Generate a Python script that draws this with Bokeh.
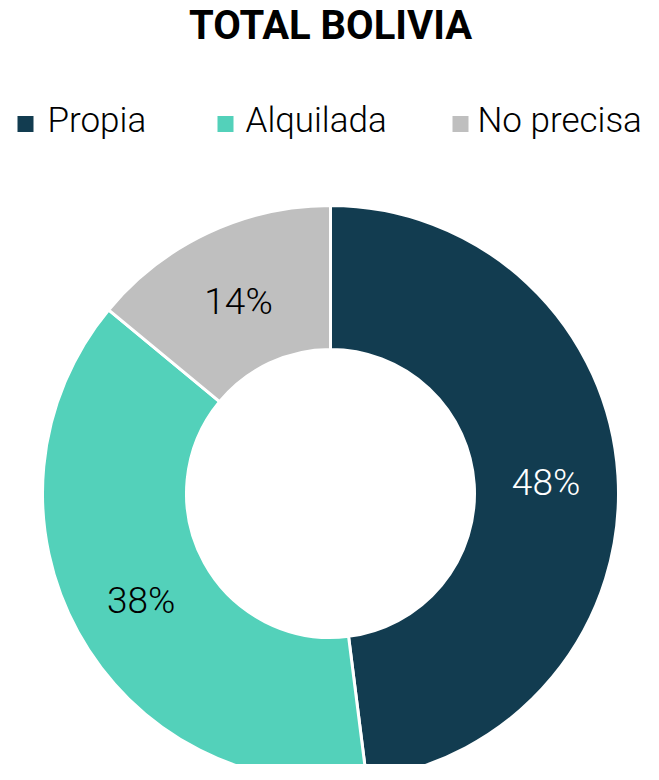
import math
from bokeh.plotting import figure
from bokeh.models import Range1d, ColumnDataSource
from bokeh.core.properties import value
from bokeh.embed import file_html
from bokeh.resources import INLINE

title = "TOTAL BOLIVIA"
categories = ["Propia", "Alquilada", "No precisa"]
shares = [48, 38, 14]
colors = ["#123c50", "#53d1ba", "#bfbfbf"]
label_colors = ["white", "black", "black"]

W, H = 643, 764

def py(y):
    # screen y (top-down) -> data y (bottom-up)
    return H - y

p = figure(width=W, height=H, output_backend="svg", toolbar_location=None,
           x_range=Range1d(0, W), y_range=Range1d(0, H),
           min_border=0)
p.axis.visible = False
p.grid.visible = False
p.outline_line_color = None
p.background_fill_color = "white"

cx, cy = 330, py(493)
r_out, r_in = 288, 144

total = sum(shares)
starts, ends, lx, ly, labels = [], [], [], [], []
cum = 0.0
for s in shares:
    a0 = math.pi / 2 - 2 * math.pi * cum / total
    cum += s
    a1 = math.pi / 2 - 2 * math.pi * cum / total
    starts.append(a0)
    ends.append(a1)
    mid = (a0 + a1) / 2
    rm = (r_in + r_out) / 2
    lx.append(cx + rm * math.cos(mid))
    ly.append(cy + rm * math.sin(mid) - 3)
    labels.append(f"{s}%")

src = ColumnDataSource(dict(start=starts, end=ends, color=colors,
                            lx=lx, ly=ly, label=labels, lc=label_colors))
p.annular_wedge(x=cx, y=cy, inner_radius=r_in, outer_radius=r_out,
                start_angle="start", end_angle="end", direction="clock",
                fill_color="color", line_color="white", line_width=3, source=src)

p.text(x="lx", y="ly", text="label", text_color="lc", source=src,
       text_font=value("Roboto Light"), text_font_size="37px",
       text_align="center", text_baseline="middle")

# Title
p.text(x=[330], y=[py(25)], text=[title], text_font=value("Roboto"),
       text_font_style="bold", text_font_size="40px", text_color="black",
       text_align="center", text_baseline="middle")

# Legend
sq_x = [25, 225, 460]
tx = [47, 245, 477]
p.rect(x=sq_x, y=[py(123.5)] * 3, width=16, height=16, fill_color=colors,
       line_color=None)
p.text(x=tx, y=[py(120)] * 3, text=categories, text_font=value("Roboto Light"),
       text_font_size="35px", text_color="black", text_align="left",
       text_baseline="middle")

open("out.html", "w").write(file_html(p, INLINE))
